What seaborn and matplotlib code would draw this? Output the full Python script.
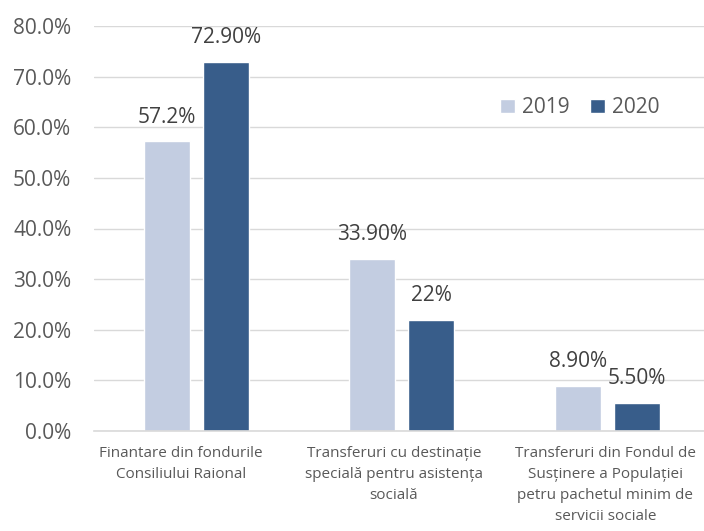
import matplotlib
matplotlib.use("Agg")
import matplotlib.pyplot as plt
import matplotlib.transforms as mtransforms
import seaborn as sns
import pandas as pd
from matplotlib.ticker import FuncFormatter
from matplotlib.patches import Patch

categories = [
    "Finantare din fondurile\nConsiliului Raional",
    "Transferuri cu destinație\nspecială pentru asistența\nsocială",
    "Transferuri din Fondul de\nSusținere a Populației\npetru pachetul minim de\nservicii sociale",
]
years = ["2019", "2020"]
values_2019 = [57.2, 33.9, 8.9]
values_2020 = [72.9, 22.0, 5.5]
labels_2019 = ["57.2%", "33.90%", "8.90%"]
labels_2020 = ["72.90%", "22%", "5.50%"]
yticks = [0, 10, 20, 30, 40, 50, 60, 70, 80]

colors = {"2019": "#C3CDE1", "2020": "#385D8A"}
text_color = "#595959"

df = pd.DataFrame({
    "category": categories * 2,
    "year": [years[0]] * 3 + [years[1]] * 3,
    "value": values_2019 + values_2020,
})

sns.set_style("white")
plt.rcParams["font.family"] = ["Open Sans", "DejaVu Sans"]

fig = plt.figure(figsize=(7.04, 5.31), dpi=100)
ax = fig.add_axes([93.5 / 704, (531 - 431) / 531, (704 - 93.5) / 704, (431 - 26) / 531])

sns.barplot(data=df, x="category", y="value", hue="year", order=categories,
            hue_order=years, palette=colors, width=0.574, gap=0.22,
            ax=ax, legend=False, saturation=1)

ax.set_xlim(-0.5, 2.47)
ax.set_ylim(0, 80)
ax.set_yticks(yticks)
ax.yaxis.set_major_formatter(FuncFormatter(lambda v, p: f"{v:.1f}%"))
ax.grid(axis="y", color="#D9D9D9", linewidth=1.0)
ax.set_axisbelow(True)
for s in ["top", "right", "left"]:
    ax.spines[s].set_visible(False)
ax.spines["bottom"].set_color("#D9D9D9")
ax.spines["bottom"].set_linewidth(1.2)
ax.set_xlabel("")
ax.set_ylabel("")
ax.tick_params(axis="y", length=0, labelsize=15, labelcolor=text_color, pad=16)
ax.tick_params(axis="x", length=0, labelsize=11, labelcolor=text_color, pad=11)
shifts_px = [-15, -8, -2]
for lab, dx in zip(ax.get_xticklabels(), shifts_px):
    lab.set_linespacing(1.55)
    lab.set_transform(lab.get_transform() +
                      mtransforms.ScaledTranslation(dx / 100, 0, fig.dpi_scale_trans))

for cont, labs in zip(ax.containers, [labels_2019, labels_2020]):
    ax.bar_label(cont, labels=labs, padding=10, fontsize=15, color="#404040")

handles = [Patch(facecolor=colors[y], label=y) for y in years]
ax.legend(handles=handles, loc="upper left", bbox_to_anchor=(0.635, 0.87),
          ncol=2, frameon=False, fontsize=15, handlelength=0.7, handleheight=0.7,
          handletextpad=0.35, columnspacing=1.0, labelcolor=text_color)

fig.savefig("out.png", dpi=100)
